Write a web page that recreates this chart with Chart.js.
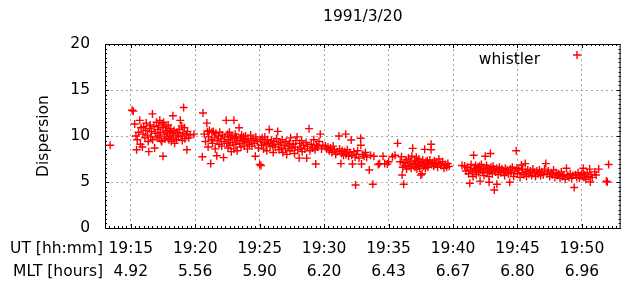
<!DOCTYPE html>
<html>
<head>
<meta charset="utf-8">
<script src="https://cdn.jsdelivr.net/npm/chart.js@4.4.0/dist/chart.umd.min.js"></script>
<style>
  html, body { margin: 0; padding: 0; background: #fff; overflow: hidden; }
  #wrap { width: 621px; height: 282px; overflow: hidden; position: relative; }
  canvas { position: absolute; left: 0; top: 0; }
</style>
</head>
<body>
<div id="wrap"><canvas id="chart" width="626" height="282"></canvas></div>
<script>
// data, minutes after 19:00 vs dispersion
const chartTitle = '1991/3/20';
const tickMinutes = [15, 20, 25, 30, 35, 40, 45, 50];
const utLabels = ['19:15', '19:20', '19:25', '19:30', '19:35', '19:40', '19:45', '19:50'];
const mltLabels = ['4.92', '5.56', '5.90', '6.20', '6.43', '6.67', '6.80', '6.96'];
const yTicks = [0, 5, 10, 15, 20];

const whistler = [
  [13.4, 9.0],
  [15.1, 12.8], [15.2, 12.7], [15.3, 11.3], [15.4, 10.0], [15.45, 8.5], [15.5, 9.6], [15.6, 10.4], [15.7, 11.7],
  [15.75, 9.1], [15.8, 10.9], [15.9, 8.8], [15.95, 10.2], [16.0, 11.0], [16.1, 9.8], [16.15, 10.6], [16.2, 11.4],
  [16.3, 10.1], [16.35, 9.4], [16.4, 8.3], [16.45, 10.8], [16.5, 11.2], [16.55, 9.9], [16.6, 10.5], [16.68, 12.4],
  [16.7, 9.6], [16.8, 11.0], [16.85, 8.7], [16.9, 10.3], [17.0, 11.5], [17.05, 9.8], [17.1, 10.7], [17.15, 11.1],
  [17.2, 10.0], [17.25, 11.7], [17.3, 10.4], [17.35, 9.5], [17.4, 9.4], [17.45, 11.3], [17.5, 7.8], [17.5, 10.9],
  [17.55, 11.5], [17.6, 10.2], [17.65, 9.7], [17.7, 11.0], [17.75, 10.6], [17.8, 9.9], [17.85, 10.3], [17.9, 11.2],
  [17.95, 9.6], [18.0, 10.5], [18.05, 10.0], [18.1, 10.8], [18.15, 9.4], [18.2, 10.3], [18.27, 12.2], [18.3, 9.8],
  [18.35, 10.6], [18.4, 9.2], [18.5, 10.1], [18.55, 9.6], [18.6, 10.4], [18.7, 9.9], [18.75, 10.7], [18.84, 11.7],
  [18.9, 10.0], [18.95, 11.1], [19.0, 9.5], [19.05, 10.3], [19.1, 13.1], [19.15, 10.9], [19.2, 9.7], [19.3, 10.2],
  [19.35, 8.5], [19.4, 10.5], [19.5, 9.8], [19.6, 10.1], [19.9, 10.2],
  [20.55, 7.75], [20.6, 12.5], [20.7, 10.2], [20.8, 9.4], [20.9, 11.4], [20.95, 10.5], [21.0, 8.8], [21.05, 9.9],
  [21.1, 10.6], [21.2, 7.0], [21.25, 9.6], [21.3, 10.4], [21.35, 9.2], [21.4, 10.5], [21.5, 9.8], [21.55, 8.6],
  [21.6, 10.3], [21.67, 7.86], [21.7, 9.5], [21.8, 10.0], [21.85, 9.1], [21.9, 10.4], [22.0, 9.7], [22.05, 8.9],
  [22.1, 10.1], [22.2, 7.65], [22.25, 9.4], [22.3, 9.9], [22.4, 11.7], [22.45, 9.2], [22.5, 10.2], [22.55, 8.7],
  [22.6, 9.6], [22.65, 10.4], [22.7, 9.0], [22.75, 9.8], [22.8, 8.3], [22.85, 10.0], [22.9, 9.3], [23.0, 11.7],
  [23.0, 8.6], [23.05, 9.7], [23.1, 10.2], [23.15, 9.1], [23.2, 9.9], [23.25, 8.4], [23.3, 9.5], [23.4, 10.9],
  [23.45, 9.2], [23.5, 9.8], [23.55, 8.8], [23.6, 10.1], [23.7, 9.4], [23.75, 9.9], [23.8, 8.9], [23.85, 9.6],
  [23.9, 10.0], [24.0, 9.3], [24.05, 8.6], [24.1, 9.7], [24.2, 9.1], [24.3, 10.1], [24.35, 9.5], [24.4, 8.9],
  [24.5, 9.7], [24.6, 9.2], [24.66, 7.8], [24.7, 9.9], [24.8, 9.4], [24.9, 8.7],
  [25.0, 6.9], [25.1, 6.8], [25.05, 9.6], [25.15, 9.0], [25.2, 9.8], [25.3, 8.6], [25.35, 9.3], [25.4, 9.9],
  [25.5, 9.1], [25.55, 8.4], [25.6, 9.6], [25.7, 9.2], [25.74, 10.7], [25.8, 8.9], [25.9, 9.5], [26.0, 9.0],
  [26.05, 8.2], [26.1, 9.4], [26.2, 8.8], [26.3, 9.7], [26.4, 10.5], [26.45, 9.1], [26.5, 8.5], [26.6, 9.3],
  [26.7, 8.7], [26.75, 9.6], [26.8, 8.2], [26.9, 9.0], [27.0, 8.6], [27.05, 9.4], [27.1, 8.0], [27.2, 8.9],
  [27.3, 9.2], [27.35, 8.4], [27.4, 9.8], [27.5, 8.7], [27.6, 9.1], [27.7, 8.1], [27.75, 8.8], [27.8, 9.5],
  [27.9, 9.9], [27.95, 8.5],
  [28.06, 7.6], [28.1, 9.2], [28.2, 8.7], [28.25, 9.5], [28.3, 8.3], [28.4, 9.0], [28.5, 8.6], [28.6, 9.3],
  [28.65, 7.6], [28.7, 8.9], [28.83, 10.8], [28.9, 8.4], [29.0, 9.1], [29.1, 8.7], [29.2, 9.6], [29.3, 8.5],
  [29.35, 6.96], [29.4, 9.0], [29.5, 8.8], [29.6, 9.4], [29.7, 10.2], [29.8, 8.6], [29.9, 9.0],
  [30.1, 8.9], [30.2, 8.6], [30.3, 8.8], [30.4, 8.4], [30.5, 8.7], [30.6, 8.2], [30.7, 8.9], [30.8, 8.5],
  [30.9, 8.0], [31.0, 8.3], [31.15, 10.0], [31.2, 8.6], [31.3, 7.0], [31.35, 8.1], [31.4, 8.4], [31.5, 7.9],
  [31.6, 8.3], [31.67, 10.2], [31.7, 8.0], [31.8, 8.5], [31.9, 7.8], [32.0, 8.2], [32.1, 9.56], [32.15, 7.9],
  [32.2, 6.96], [32.3, 8.3], [32.4, 7.7], [32.44, 4.67], [32.5, 8.0], [32.6, 8.4], [32.7, 7.6], [32.83, 9.75],
  [32.85, 9.0], [32.9, 6.96], [33.0, 8.0], [33.1, 7.8], [33.2, 8.2], [33.3, 7.7], [33.5, 6.3], [33.6, 7.9],
  [33.78, 4.75], [33.86, 7.8],
  [34.2, 6.9], [34.3, 7.0], [34.57, 7.8], [34.7, 7.0], [34.9, 6.95], [35.0, 7.2], [35.3, 7.75], [35.5, 7.9],
  [35.7, 9.2], [35.9, 7.2], [36.0, 7.75], [36.05, 5.76], [36.17, 4.75],
  [36.1, 6.6], [36.2, 7.1], [36.3, 6.8], [36.35, 7.4], [36.4, 6.4], [36.5, 7.0], [36.55, 7.6], [36.6, 6.7],
  [36.7, 7.2], [36.75, 6.5], [36.8, 7.8], [36.87, 8.66], [36.9, 6.9], [37.0, 7.3], [37.05, 6.6], [37.1, 7.0],
  [37.15, 7.7], [37.2, 6.4], [37.25, 7.2], [37.3, 6.8], [37.35, 7.5], [37.4, 6.5], [37.5, 5.76], [37.5, 7.1],
  [37.55, 6.9], [37.6, 5.9], [37.65, 7.4], [37.7, 6.7], [37.75, 7.0], [37.8, 8.55], [37.85, 6.5], [37.9, 7.2],
  [37.95, 6.8], [38.0, 7.3], [38.05, 6.6], [38.1, 7.0], [38.2, 7.4], [38.3, 9.1], [38.3, 8.5], [38.35, 6.9],
  [38.4, 7.1], [38.5, 6.7], [38.55, 7.3], [38.6, 6.9], [38.7, 7.1], [38.8, 6.6], [38.9, 7.5], [39.0, 7.0],
  [39.1, 6.8], [39.2, 7.2], [39.3, 6.5], [39.4, 6.9], [39.5, 6.6], [39.6, 7.0], [39.7, 6.7],
  [40.7, 6.8], [40.9, 6.74], [41.0, 6.2], [41.1, 6.6], [41.2, 5.9], [41.3, 4.86], [41.35, 6.4], [41.4, 6.9],
  [41.5, 6.1], [41.55, 5.6], [41.6, 7.9], [41.65, 6.5], [41.7, 6.2], [41.75, 6.8], [41.8, 5.8], [41.85, 6.4],
  [41.9, 6.6], [42.0, 6.0], [42.05, 6.7], [42.1, 5.1], [42.15, 6.3], [42.2, 6.9], [42.3, 6.1], [42.35, 6.5],
  [42.4, 5.7], [42.5, 7.8], [42.5, 6.4], [42.6, 6.8], [42.65, 6.0], [42.7, 6.5], [42.8, 4.97], [42.8, 5.58],
  [42.85, 6.2], [42.9, 8.1], [42.95, 6.6], [43.0, 6.3], [43.05, 5.9], [43.1, 6.7], [43.2, 4.13], [43.2, 6.4],
  [43.3, 6.1], [43.4, 4.75], [43.4, 6.5], [43.5, 5.8], [43.55, 6.3], [43.6, 6.6], [43.7, 6.0], [43.8, 6.4],
  [43.9, 6.2], [44.0, 5.7], [44.05, 6.5], [44.1, 6.1], [44.2, 6.3], [44.3, 5.9], [44.4, 4.97], [44.45, 6.4],
  [44.5, 6.0], [44.6, 6.6], [44.7, 5.6], [44.8, 6.2], [44.9, 8.4], [44.95, 6.5], [45.0, 5.9], [45.1, 6.3],
  [45.2, 5.5], [45.3, 6.85], [45.35, 6.0], [45.4, 6.4], [45.5, 5.8], [45.6, 7.0], [45.65, 6.1], [45.7, 5.6],
  [45.8, 6.3], [45.9, 5.9], [46.0, 6.2], [46.1, 5.7], [46.2, 6.4], [46.3, 6.0], [46.4, 5.6], [46.5, 6.2],
  [46.6, 5.9], [46.7, 6.3], [46.8, 5.7], [46.9, 6.1], [47.0, 5.8], [47.1, 6.4], [47.2, 7.0], [47.3, 5.9],
  [47.4, 6.2], [47.5, 5.6], [47.6, 6.0], [47.7, 5.8], [47.8, 6.3], [47.9, 5.5], [48.0, 6.0], [48.1, 5.7],
  [48.2, 5.9], [48.3, 5.4], [48.4, 6.1], [48.5, 5.6], [48.6, 5.8], [48.7, 5.3], [48.8, 6.5], [48.9, 5.7],
  [49.0, 5.5], [49.1, 5.9], [49.2, 5.4], [49.3, 5.7], [49.4, 4.4], [49.5, 5.8], [49.6, 5.5], [49.7, 6.0],
  [49.8, 5.4], [49.9, 5.7], [50.0, 5.9], [50.1, 6.5], [50.15, 5.5], [50.2, 5.8], [50.3, 5.3], [50.4, 6.0],
  [50.5, 5.6], [50.6, 6.4], [50.65, 5.0], [50.7, 5.8], [50.8, 5.5], [51.0, 6.1], [51.1, 5.76], [51.3, 6.4],
  [51.9, 5.1], [51.97, 5.0], [52.07, 6.9]
];

const FONT = 'DejaVu Sans, Verdana, sans-serif';
const FSIZE = 15.5;
const X_PAD = 9.5;
const X_LINE = 23;

// title, top/right border, inward ticks, row captions and key
const frame = {
  id: 'frame',
  afterDraw(chart) {
    const { ctx, chartArea: a, scales: { x, y } } = chart;
    ctx.save();
    ctx.strokeStyle = '#000';
    ctx.lineWidth = 1;
    ctx.beginPath();
    ctx.moveTo(a.left, a.top + 0.5); ctx.lineTo(a.right, a.top + 0.5);
    ctx.moveTo(a.right - 0.5, a.top); ctx.lineTo(a.right - 0.5, a.bottom);
    for (let k = 13 * 3; k <= 53 * 3; k++) {
      const px = Math.round(x.getPixelForValue(k / 3)) + 0.5;
      const len = (k % 15 === 0) ? 4 : 2;
      ctx.moveTo(px, a.bottom); ctx.lineTo(px, a.bottom - len);
      ctx.moveTo(px, a.top); ctx.lineTo(px, a.top + len);
    }
    for (let k = 0; k <= 40; k++) {
      const py = Math.round(y.getPixelForValue(k / 2)) + 0.5;
      const len = (k % 10 === 0) ? 4 : 2;
      ctx.moveTo(a.left, py); ctx.lineTo(a.left + len, py);
      ctx.moveTo(a.right, py); ctx.lineTo(a.right - len, py);
    }
    ctx.stroke();

    ctx.fillStyle = '#000';
    ctx.font = FSIZE + 'px ' + FONT;
    ctx.textBaseline = 'middle';
    ctx.textAlign = 'center';
    ctx.fillText(chartTitle, (a.left + a.right) / 2, 17);

    ctx.textAlign = 'right';
    const row1 = a.bottom + X_PAD + X_LINE / 2;
    ctx.fillText('UT [hh:mm]', a.left - 2, row1);
    ctx.fillText('MLT [hours]', a.left - 2, row1 + X_LINE);

    ctx.fillText(chart.data.datasets[0].label, 540, 60);
    ctx.strokeStyle = '#ff0000';
    ctx.lineWidth = 1.4;
    ctx.beginPath();
    ctx.moveTo(573, 55); ctx.lineTo(581, 55);
    ctx.moveTo(577, 51); ctx.lineTo(577, 59);
    ctx.stroke();
    ctx.restore();
  }
};

const ctx = document.getElementById('chart').getContext('2d');
new Chart(ctx, {
  type: 'scatter',
  data: {
    datasets: [{
      label: 'whistler',
      data: whistler.map(p => ({ x: p[0], y: p[1] })),
      pointStyle: 'cross',
      pointRadius: 4,
      pointHoverRadius: 4,
      pointBorderWidth: 1.4,
      borderColor: '#ff0000',
      backgroundColor: '#ff0000'
    }]
  },
  options: {
    responsive: false,
    animation: false,
    devicePixelRatio: 1,
    layout: { padding: { top: 44, right: 3, left: 0, bottom: 0 } },
    plugins: { legend: { display: false }, tooltip: { enabled: false } },
    scales: {
      x: {
        type: 'linear',
        min: 13,
        max: 53,
        afterBuildTicks: s => { s.ticks = tickMinutes.map(v => ({ value: v })); },
        afterFit: s => { s.height = 54; },
        grid: { color: '#a8a8a8', drawTicks: false, lineWidth: 1 },
        border: { display: true, color: '#000', width: 1, dash: [2, 3] },
        ticks: {
          autoSkip: false,
          maxRotation: 0,
          padding: X_PAD,
          color: '#000',
          font: { family: FONT, size: FSIZE, lineHeight: X_LINE / FSIZE },
          callback: v => {
            const i = tickMinutes.indexOf(v);
            return [utLabels[i], mltLabels[i]];
          }
        }
      },
      y: {
        min: 0,
        max: 20,
        afterBuildTicks: s => { s.ticks = yTicks.map(v => ({ value: v })); },
        afterFit: s => { s.width = 105; },
        grid: {
          color: c => (c.tick && (c.tick.value === 0 || c.tick.value === 20)) ? 'rgba(0,0,0,0)' : '#a8a8a8',
          drawTicks: false,
          lineWidth: 1
        },
        border: { display: true, color: '#000', width: 1, dash: [2, 3] },
        ticks: { padding: 15, color: '#000', font: { family: FONT, size: FSIZE } },
        title: {
          display: true,
          text: 'Dispersion',
          color: '#000',
          font: { family: FONT, size: FSIZE },
          padding: { top: 35, bottom: 0 }
        }
      }
    }
  },
  plugins: [frame]
});
</script>
</body>
</html>
